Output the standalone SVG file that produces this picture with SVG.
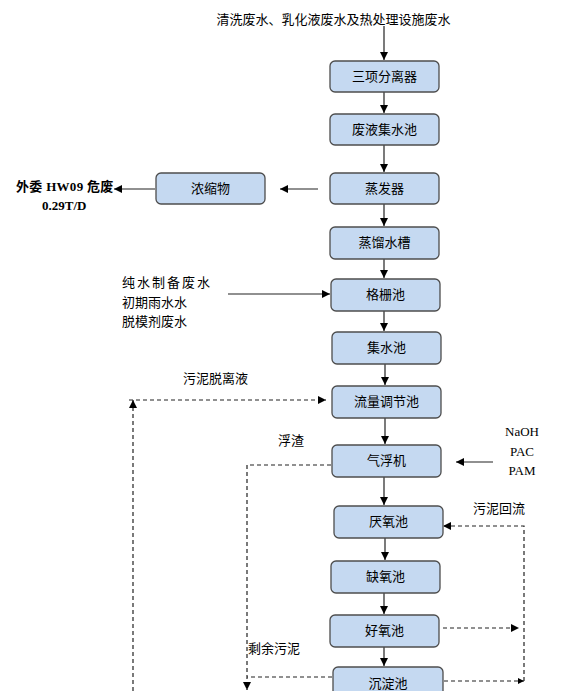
<svg xmlns="http://www.w3.org/2000/svg" width="581" height="691" viewBox="0 0 581 691">
<defs>
<style>
.box{fill:#c5d9f1;stroke:#4d4d4d;stroke-width:1.3}
.lbl{font-family:"Noto Sans CJK SC","Liberation Sans",sans-serif;font-size:13px;fill:#000;text-anchor:middle}
.txt{font-family:"Noto Sans CJK SC","Liberation Sans",sans-serif;font-size:13px;fill:#000}
.ser{font-family:"Liberation Serif","Noto Sans CJK SC",serif;font-size:13px;fill:#000}
.bold{font-weight:bold}
.ln{fill:none;stroke:#222;stroke-width:1.2}
.dash{fill:none;stroke:#222;stroke-width:1.2;stroke-dasharray:4 3}
</style>
<marker id="ah" markerWidth="8" markerHeight="8" refX="8" refY="4" orient="auto" markerUnits="userSpaceOnUse">
<path d="M0,0 L8,4 L0,8 z" fill="#000"/>
</marker>
<marker id="ahs" markerWidth="6" markerHeight="6" refX="6" refY="3" orient="auto" markerUnits="userSpaceOnUse">
<path d="M0,0 L6,3 L0,6 z" fill="#000"/>
</marker>
</defs>
<rect width="581" height="691" fill="#fff"/>

<g id="connectors">
<path class="ln" d="M384,26 V60" marker-end="url(#ah)"/>
<path class="ln" d="M384,92 V113" marker-end="url(#ah)"/>
<path class="ln" d="M384,145 V172" marker-end="url(#ah)"/>
<path class="ln" d="M384,204 V226" marker-end="url(#ah)"/>
<path class="ln" d="M384,259 V278" marker-end="url(#ah)"/>
<path class="ln" d="M384,311 V331" marker-end="url(#ah)"/>
<path class="ln" d="M385,364 V385" marker-end="url(#ah)"/>
<path class="ln" d="M385,418 V444" marker-end="url(#ah)"/>
<path class="ln" d="M384,477 V505" marker-end="url(#ah)"/>
<path class="ln" d="M385,538 V560" marker-end="url(#ah)"/>
<path class="ln" d="M384,593 V614" marker-end="url(#ah)"/>
<path class="ln" d="M384,647 V666" marker-end="url(#ah)"/>
<path class="ln" d="M318,189 H280" marker-end="url(#ah)"/>
<path class="ln" d="M155,189 H114" marker-end="url(#ah)"/>
<path class="ln" d="M228,294 H330" marker-end="url(#ah)"/>
<path class="ln" d="M493,462 H456" marker-end="url(#ah)"/>
<path class="dash" d="M133,691 V400" marker-end="url(#ah)"/>
<path class="dash" d="M129,400 H326" marker-end="url(#ah)"/>
<path class="dash" d="M331,465 H247 V690" marker-end="url(#ah)"/>
<path class="dash" d="M332,677 H247"/>
<path class="dash" d="M443,628 H519" marker-end="url(#ah)"/>
<path class="dash" d="M444,681 H524" marker-end="url(#ahs)"/>
<path class="dash" d="M524,681 V526 H443" marker-end="url(#ah)"/>
</g>

<g id="n1"><rect class="box" x="330" y="61" width="109" height="31" rx="5"/><text class="lbl" x="384.5" y="81">三项分离器</text></g>
<g id="n2"><rect class="box" x="330" y="114" width="109" height="31" rx="5"/><text class="lbl" x="384.5" y="134">废液集水池</text></g>
<g id="n3"><rect class="box" x="330" y="173" width="109" height="31" rx="5"/><text class="lbl" x="384.5" y="193">蒸发器</text></g>
<g id="n4"><rect class="box" x="156" y="173" width="109" height="31" rx="5"/><text class="lbl" x="210.5" y="193">浓缩物</text></g>
<g id="n5"><rect class="box" x="330" y="227" width="109" height="32" rx="5"/><text class="lbl" x="384.5" y="247">蒸馏水槽</text></g>
<g id="n6"><rect class="box" x="331" y="279" width="109" height="32" rx="5"/><text class="lbl" x="385.5" y="299">格栅池</text></g>
<g id="n7"><rect class="box" x="332" y="332" width="109" height="32" rx="5"/><text class="lbl" x="386.5" y="352">集水池</text></g>
<g id="n8"><rect class="box" x="332" y="386" width="109" height="32" rx="5"/><text class="lbl" x="386.5" y="406">流量调节池</text></g>
<g id="n9"><rect class="box" x="332" y="445" width="109" height="32" rx="5"/><text class="lbl" x="386.5" y="465">气浮机</text></g>
<g id="n10"><rect class="box" x="334" y="506" width="109" height="32" rx="5"/><text class="lbl" x="388.5" y="526">厌氧池</text></g>
<g id="n11"><rect class="box" x="331" y="561" width="109" height="32" rx="5"/><text class="lbl" x="385.5" y="581">缺氧池</text></g>
<g id="n12"><rect class="box" x="330" y="615" width="109" height="32" rx="5"/><text class="lbl" x="384.5" y="635">好氧池</text></g>
<g id="n13"><rect class="box" x="333" y="667" width="110" height="32" rx="5"/><text class="lbl" x="388" y="688">沉淀池</text></g>

<g id="labels">
<text class="txt" x="333.5" y="24" text-anchor="middle">清洗废水、乳化液废水及热处理设施废水</text>
<text class="ser bold" x="16" y="191" letter-spacing="0.3">外委 HW09 危废</text>
<text class="ser bold" x="42" y="210">0.29T/D</text>
<text class="txt" x="122" y="287" letter-spacing="2">纯水制备废水</text>
<text class="txt" x="122" y="307">初期雨水水</text>
<text class="txt" x="122" y="326">脱模剂废水</text>
<text class="txt" x="183" y="383">污泥脱离液</text>
<text class="txt" x="278" y="445">浮渣</text>
<text class="txt" x="248" y="653">剩余污泥</text>
<text class="txt" x="473" y="513">污泥回流</text>
<text class="ser" x="522" y="436" text-anchor="middle">NaOH</text>
<text class="ser" x="522" y="456" text-anchor="middle">PAC</text>
<text class="ser" x="522" y="475" text-anchor="middle">PAM</text>
</g>
</svg>
